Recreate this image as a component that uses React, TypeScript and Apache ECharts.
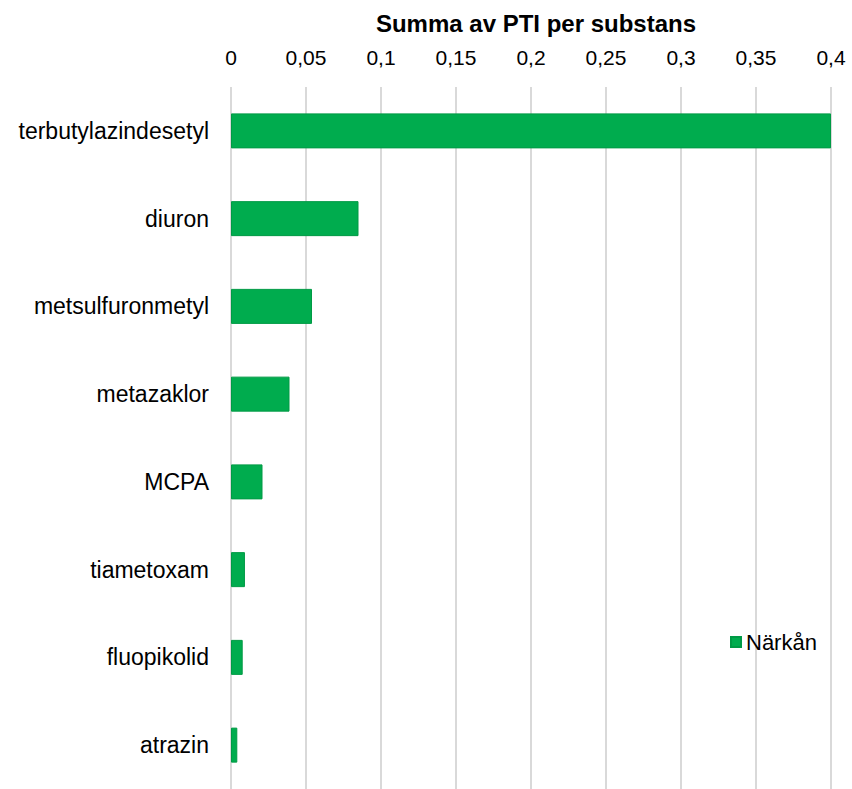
import React, { useEffect, useRef } from "react";
import * as echarts from "echarts";

const categories = [
  "terbutylazindesetyl",
  "diuron",
  "metsulfuronmetyl",
  "metazaklor",
  "MCPA",
  "tiametoxam",
  "fluopikolid",
  "atrazin",
];
const values = [0.4, 0.085, 0.054, 0.039, 0.021, 0.0093, 0.0078, 0.0042];
const seriesName = "Närkån";
const title = "Summa av PTI per substans";

export default function App() {
  const ref = useRef<HTMLDivElement>(null);
  useEffect(() => {
    document.body.style.margin = "0";
    const chart = echarts.init(ref.current!, undefined, { renderer: "svg" });
    chart.setOption({
      animation: false,
      backgroundColor: "#ffffff",
      textStyle: { fontFamily: "Liberation Sans, Arial, sans-serif" },
      title: {
        text: title,
        left: 531,
        textAlign: "center",
        top: 6,
        textStyle: { fontSize: 24, fontWeight: "bold", color: "#000" },
      },
      legend: {
        data: [seriesName],
        left: 725,
        top: 626,
        itemWidth: 10,
        itemHeight: 10,
        itemGap: 7,
        icon: "rect",
        textStyle: { fontSize: 22, color: "#000" },
      },
      grid: { left: 231, right: 21, top: 87, bottom: -9, containLabel: false },
      xAxis: {
        type: "value",
        position: "top",
        min: 0,
        max: 0.4,
        interval: 0.05,
        axisLine: { show: false },
        axisTick: { show: false },
        splitLine: { show: true, lineStyle: { color: "#d9d9d9", width: 2 } },
        axisLabel: {
          fontSize: 21,
          color: "#000",
          margin: 19,
          formatter: (v: number) => String(Math.round(v * 100) / 100).replace(".", ","),
        },
      },
      yAxis: {
        type: "category",
        data: categories,
        inverse: true,
        axisLine: { show: false },
        axisTick: { show: false },
        axisLabel: { fontSize: 23, color: "#000", margin: 22 },
      },
      series: [
        {
          name: seriesName,
          type: "bar",
          data: values,
          barWidth: 35,
          itemStyle: { color: "#00ac4e", borderColor: "#009a45", borderWidth: 1 },
        },
      ],
    });
    return () => chart.dispose();
  }, []);
  return (
    <div
      ref={ref}
      style={{ position: "fixed", left: 0, top: 0, width: 852, height: 789 }}
    />
  );
}
